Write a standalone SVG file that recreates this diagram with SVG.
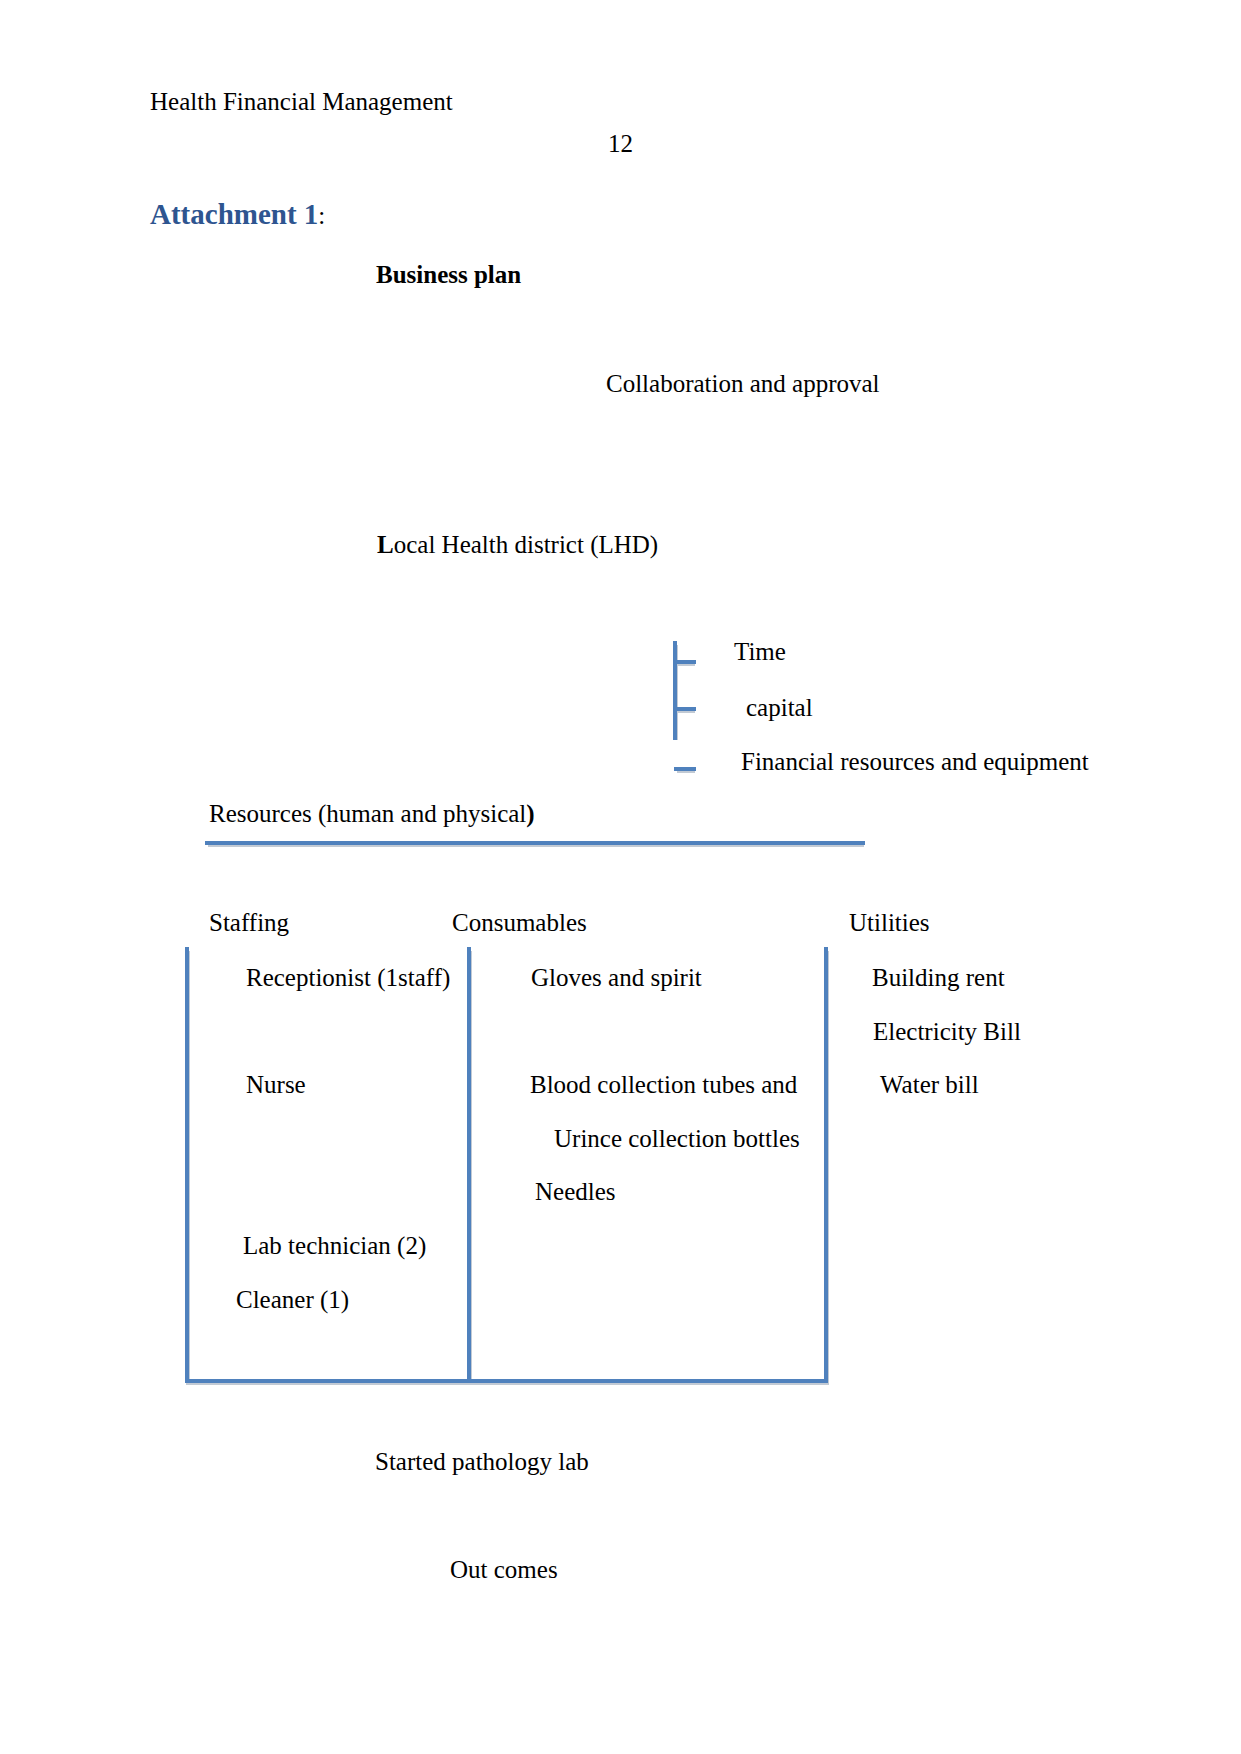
<svg xmlns="http://www.w3.org/2000/svg" width="1241" height="1754" viewBox="0 0 1241 1754">
<style>
text{font-family:"Liberation Serif","Times New Roman",serif;font-size:25px;fill:#000}
.b{font-weight:bold}
.h{font-weight:bold;font-size:29px;fill:#2E5590}
.ln{stroke:#4F81BD;stroke-width:4;fill:none;stroke-linecap:square}
.sh{stroke:#9aa7b8;stroke-width:4;fill:none;opacity:0.6}
</style>
<rect width="1241" height="1754" fill="#fff"/>
<g id="header">
<text x="150" y="110">Health Financial Management</text>
<text x="608" y="152">12</text>
<text x="150" y="224"><tspan class="h">Attachment 1</tspan>:</text>
</g>
<g id="business-plan"><text class="b" x="376" y="283">Business plan</text></g>
<g id="collaboration"><text x="606" y="392">Collaboration and approval</text></g>
<g id="lhd"><text x="377" y="553"><tspan class="b">L</tspan>ocal Health district (LHD)</text></g>
<g id="requirements">
<text x="734" y="660">Time</text>
<text x="746" y="716">capital</text>
<text x="741" y="770">Financial resources and equipment</text>
</g>
<g id="resources"><text x="209" y="822">Resources (human and physical<tspan class="b">)</tspan></text></g>
<g id="staffing">
<text x="209" y="931">Staffing</text>
<text x="246" y="986">Receptionist (1staff)</text>
<text x="246" y="1093">Nurse</text>
<text x="243" y="1254">Lab technician (2)</text>
<text x="236" y="1308">Cleaner (1)</text>
</g>
<g id="consumables">
<text x="452" y="931">Consumables</text>
<text x="531" y="986">Gloves and spirit</text>
<text x="530" y="1093">Blood collection tubes and</text>
<text x="554" y="1147">Urince collection bottles</text>
<text x="535" y="1200">Needles</text>
</g>
<g id="utilities">
<text x="849" y="931">Utilities</text>
<text x="872" y="986">Building rent</text>
<text x="873" y="1040">Electricity Bill</text>
<text x="880" y="1093">Water bill</text>
</g>
<g id="started-lab"><text x="375" y="1470">Started pathology lab</text></g>
<g id="outcomes"><text x="450" y="1578">Out comes</text></g>
<g id="connectors">
<g transform="translate(1,2)">
<path class="sh" d="M675 643V738M675 662H694M675 709H694M676 769H694"/>
<path class="sh" d="M207 843H863"/>
<path class="sh" d="M187 949V1381H826V949M469 949V1381"/>
</g>
<path class="ln" d="M675 643V738M675 662H694M675 709H694M676 769H694"/>
<path class="ln" d="M207 843H863"/>
<path class="ln" d="M187 949V1381H826V949M469 949V1381"/>
</g>
</svg>
